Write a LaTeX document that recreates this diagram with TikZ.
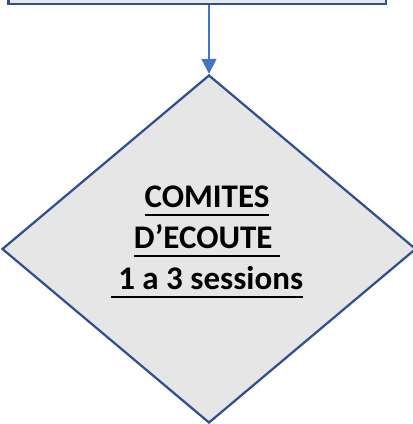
\documentclass[tikz,border=0pt]{standalone}
\usepackage{fontspec}
\setmainfont{Carlito}
\usepackage{tikz}
\usetikzlibrary{shapes,arrows.meta,backgrounds}
\usetikzlibrary{positioning, shapes.geometric}
\definecolor{bordB}{HTML}{2F528F}
\definecolor{flecheB}{HTML}{4472C4}
\definecolor{fondG}{HTML}{E6E6E6}
\tikzset{
  boite/.style={ draw=bordB, line width=2.25bp, fill=fondG, minimum width=377.5bp, minimum height=40bp }
}
\tikzset{
  losange/.style={ draw=bordB, line width=2.25bp, fill=fondG, diamond, inner sep=0pt, minimum width=414bp, minimum height=348bp }
}
\tikzset{
  titre/.style={ align=center, inner sep=0pt, font=\bfseries\fontsize{33bp}{41bp}\selectfont }
}
\newcommand\souligne[1]{\setbox0\hbox{#1}\rlap{\rule[-8bp]{\wd0}{2bp}}\box0}

\begin{document}
\begin{tikzpicture}[y=1bp, x=1bp]
        \useasboundingbox (0, 0) rectangle (413, 424);
        \node[boite] (box) at (197.25, 440) {};
        \node[losange] (comite) at (209, 175) {};
        \node[titre] (titre) at (207, 182) {\souligne{COMITES}\\ \souligne{D’ECOUTE\ }\\ \souligne{\ 1 a 3 sessions}};
        \draw[-{Triangle[width=15bp, length=15bp]}, draw=flecheB, fill=flecheB, line width=1.5bp] (comite.north |- box.south) -- (comite.north);
      \end{tikzpicture}
\end{document}
